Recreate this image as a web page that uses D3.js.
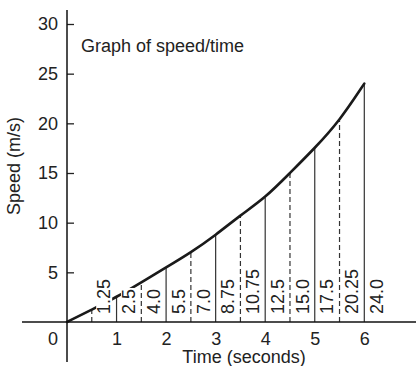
<!DOCTYPE html>
<html>
<head>
<meta charset="utf-8">
<script src="https://cdn.jsdelivr.net/npm/d3@7"></script>
<style>
  html, body { margin: 0; padding: 0; background: #fff; }
  svg { display: block; }
  text { font-family: "Liberation Sans", Arial, Helvetica, sans-serif; fill: #222; }
</style>
</head>
<body>
<svg id="chart" width="416" height="366"></svg>
<script>
// ---- data ----
const times  = [0, 0.5, 1, 1.5, 2, 2.5, 3, 3.5, 4, 4.5, 5, 5.5, 6];
const speeds = [0, 1.25, 2.5, 4.0, 5.5, 7.0, 8.75, 10.75, 12.5, 15.0, 17.5, 20.25, 24.0];
const speedLabels = ["1.25", "2.5", "4.0", "5.5", "7.0", "8.75", "10.75", "12.5", "15.0", "17.5", "20.25", "24.0"];
const xTicks = [1, 2, 3, 4, 5, 6];
const yTicks = [5, 10, 15, 20, 25, 30];
const title = "Graph of speed/time";
const xTitle = "Time (seconds)";
const yTitle = "Speed (m/s)";

// ---- layout ----
const svg = d3.select("#chart");
const x = d3.scaleLinear().domain([0, 6]).range([67, 364.3]);
const y = d3.scaleLinear().domain([0, 30]).range([322, 24]);
const FS = 18;

// vertical ordinates
const ords = times.map((t, i) => ({ t, v: speeds[i], label: speedLabels[i - 1], dashed: (t % 1) !== 0 })).filter(d => d.t > 0);

svg.append("g").selectAll("line").data(ords).join("line")
  .attr("x1", d => x(d.t)).attr("x2", d => x(d.t))
  .attr("y1", y(0)).attr("y2", d => y(d.v))
  .attr("stroke", "#333").attr("stroke-width", 1.2)
  .attr("stroke-dasharray", d => d.dashed ? "5,3" : null);

// curve
const line = d3.line().x((d, i) => x(times[i])).y(d => y(d)).curve(d3.curveBasis);
svg.append("path").datum(speeds)
  .attr("d", line).attr("fill", "none")
  .attr("stroke", "#1a1a1a").attr("stroke-width", 2.6).attr("stroke-linecap", "round");

// value labels with white backing
const lab = svg.append("g").selectAll("g").data(ords).join("g")
  .attr("transform", d => `translate(${x(d.t + 0.25)},314) rotate(-90)`);
lab.append("rect").attr("fill", "#fff");
lab.append("text").attr("font-size", FS).attr("dy", "0.35em").text(d => d.label);
lab.each(function() {
  const g = d3.select(this);
  const w = g.select("text").node().getComputedTextLength();
  g.select("rect").attr("x", -1).attr("y", -8).attr("width", w + 2).attr("height", 16);
});

// y axis
const yAxis = d3.axisLeft(y).tickValues(yTicks).tickSizeInner(-7).tickSizeOuter(0).tickPadding(9);
const gy = svg.append("g").attr("transform", `translate(${x(0)},0)`).call(yAxis);
gy.select(".domain").remove();
gy.selectAll(".tick line").attr("stroke", "#222").attr("stroke-width", 1.3);
gy.selectAll(".tick text").attr("font-size", FS).attr("font-family", null).attr("fill", "#222");

// x axis
const xAxis = d3.axisBottom(x).tickValues(xTicks).tickSize(0).tickPadding(10).tickFormat(d3.format("d"));
const gx = svg.append("g").attr("transform", `translate(0,${y(0)})`).call(xAxis);
gx.select(".domain").remove();
gx.selectAll(".tick text").attr("font-size", FS).attr("font-family", null).attr("fill", "#222");

// axis lines
svg.append("line").attr("x1", x(0)).attr("x2", x(0)).attr("y1", 10).attr("y2", 362)
  .attr("stroke", "#111").attr("stroke-width", 1.5);
svg.append("line").attr("x1", 22).attr("x2", 416).attr("y1", y(0)).attr("y2", y(0))
  .attr("stroke", "#111").attr("stroke-width", 1.5);

// origin label
svg.append("text").attr("x", 58).attr("y", 345).attr("text-anchor", "end").attr("font-size", FS).text("0");

// titles
svg.append("text").attr("x", 81).attr("y", 52).attr("font-size", FS).text(title);
svg.append("text").attr("x", 244).attr("y", 363).attr("text-anchor", "middle").attr("font-size", FS).text(xTitle);
svg.append("text").attr("transform", "translate(20,166) rotate(-90)").attr("text-anchor", "middle").attr("font-size", FS).text(yTitle);
</script>
</body>
</html>
